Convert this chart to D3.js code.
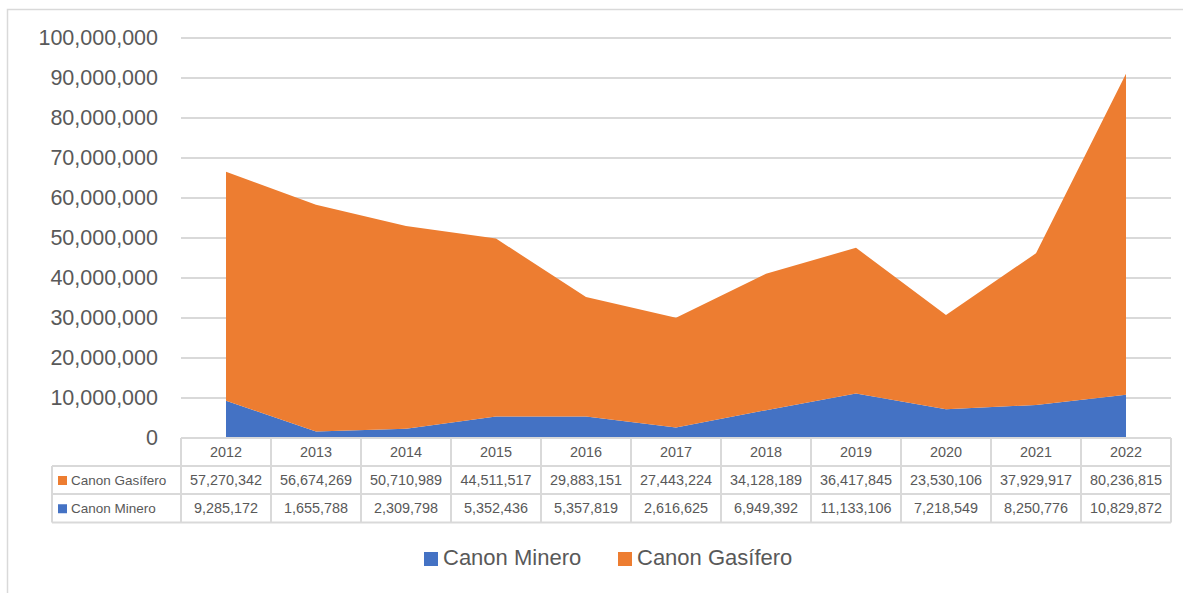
<!DOCTYPE html>
<html><head><meta charset="utf-8">
<script src="https://cdn.jsdelivr.net/npm/d3@7"></script>
<style>body{margin:0;background:#fff;}svg{display:block;font-family:"Liberation Sans",Arial,sans-serif;}</style>
</head><body><div id="chart"></div>
<script>
const years = ["2012","2013","2014","2015","2016","2017","2018","2019","2020","2021","2022"];
const canonGasifero = [57270342,56674269,50710989,44511517,29883151,27443224,34128189,36417845,23530106,37929917,80236815];
const canonMinero = [9285172,1655788,2309798,5352436,5357819,2616625,6949392,11133106,7218549,8250776,10829872];
const seriesNames = ["Canon Minero","Canon Gasífero"];
const yTicks = [0,10000000,20000000,30000000,40000000,50000000,60000000,70000000,80000000,90000000,100000000];

(function(){
const W = 1183, H = 593;
const colors = {"Canon Minero":"#4472C4","Canon Gasífero":"#ED7D31"};
const svg = d3.select("#chart").append("svg").attr("width",W).attr("height",H);

svg.append("rect").attr("x",7.5).attr("y",9.5).attr("width",1190).attr("height",600)
  .attr("fill","none").attr("stroke","#D9D9D9").attr("stroke-width",1.5);

const pL = 181, pR = 1171, pT = 38, pB = 438;
const x = d3.scaleBand().domain(years).range([pL,pR]);
const y = d3.scaleLinear().domain([0,100000000]).range([pB,pT]);
const fmt = d3.format(",");

// grid
svg.append("g").selectAll("line").data(yTicks.slice(1)).join("line")
  .attr("x1",pL).attr("x2",pR).attr("y1",d=>y(d)).attr("y2",d=>y(d))
  .attr("stroke","#D9D9D9").attr("stroke-width",2);

// y axis labels
const yAxis = d3.axisLeft(y).tickValues(yTicks).tickFormat(fmt).tickSize(0).tickPadding(0);
const ga = svg.append("g").attr("transform",`translate(158,0)`).call(yAxis);
ga.select(".domain").remove();
ga.selectAll("text").attr("fill","#595959").style("font-size","21.5px").style("font-family","Liberation Sans, Arial, sans-serif");

// stacked areas
const rows = years.map((yr,i)=>({year:yr,"Canon Minero":canonMinero[i],"Canon Gasífero":canonGasifero[i]}));
const stack = d3.stack().keys(seriesNames)(rows);
const cx = d=>x(d.data.year)+x.bandwidth()/2;
const area = d3.area().x(cx).y0(d=>y(d[0])).y1(d=>y(d[1]));
svg.append("g").selectAll("path").data(stack).join("path")
  .attr("d",area).attr("fill",d=>colors[d.key]);

// data table
const tableCol = "#D9D9D9";
const rowTops = [438,466,494,522.5];
const tg = svg.append("g");
tg.append("line").attr("x1",pL).attr("x2",pR).attr("y1",rowTops[0]).attr("y2",rowTops[0]).attr("stroke",tableCol).attr("stroke-width",2);
[1,2,3].forEach(i=>{
  tg.append("line").attr("x1",52).attr("x2",pR).attr("y1",rowTops[i]).attr("y2",rowTops[i]).attr("stroke",tableCol).attr("stroke-width",2);
});
const vx = years.map(d=>x(d)).concat([pR]);
tg.selectAll("line.v").data(vx).join("line").attr("class","v")
  .attr("x1",d=>d).attr("x2",d=>d).attr("y1",rowTops[0]).attr("y2",rowTops[3])
  .attr("stroke",tableCol).attr("stroke-width",2);
tg.append("line").attr("x1",52).attr("x2",52).attr("y1",rowTops[1]).attr("y2",rowTops[3]).attr("stroke",tableCol).attr("stroke-width",2);

const tFont = "14.4px";
tg.selectAll("text.yr").data(years).join("text").attr("class","yr")
  .attr("x",d=>x(d)+x.bandwidth()/2).attr("y",(rowTops[0]+rowTops[1])/2+1)
  .attr("text-anchor","middle").attr("dominant-baseline","middle")
  .attr("fill","#595959").style("font-size",tFont).text(d=>d);

const tableRows = [{name:"Canon Gasífero",vals:canonGasifero},{name:"Canon Minero",vals:canonMinero}];
tableRows.forEach((r,ri)=>{
  const cy = (rowTops[ri+1]+rowTops[ri+2])/2+1;
  tg.append("rect").attr("x",58).attr("y",cy-5).attr("width",9).attr("height",9).attr("fill",colors[r.name]);
  tg.append("text").attr("x",71).attr("y",cy).attr("dominant-baseline","middle")
    .attr("fill","#595959").style("font-size","13.5px").text(r.name);
  tg.selectAll("text.v"+ri).data(r.vals).join("text").attr("class","v"+ri)
    .attr("x",(d,i)=>x(years[i])+x.bandwidth()/2).attr("y",cy)
    .attr("text-anchor","middle").attr("dominant-baseline","middle")
    .attr("fill","#595959").style("font-size",tFont).text(d=>fmt(d));
});

// legend
const legend = [{name:"Canon Minero",x:424},{name:"Canon Gasífero",x:618}];
const lg = svg.append("g");
legend.forEach(l=>{
  lg.append("rect").attr("x",l.x).attr("y",552).attr("width",14).attr("height",14).attr("fill",colors[l.name]);
  lg.append("text").attr("x",l.x+19).attr("y",559.5).attr("dominant-baseline","middle")
    .attr("fill","#595959").style("font-size","22px").text(l.name);
});
})();
</script></body></html>
